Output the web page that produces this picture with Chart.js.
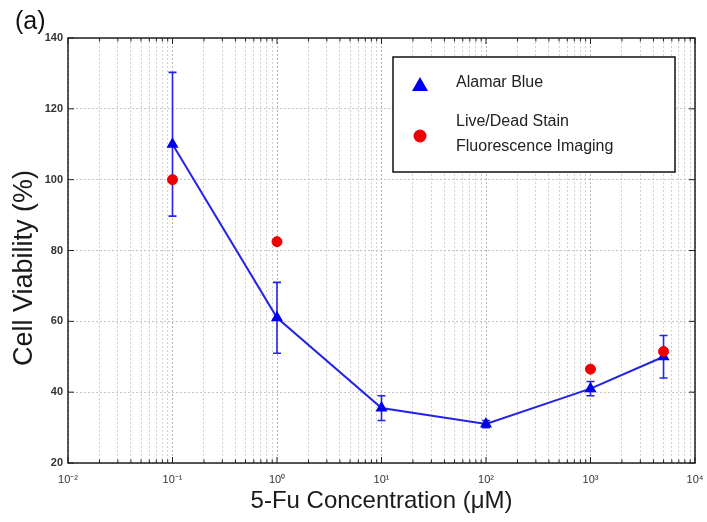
<!DOCTYPE html>
<html>
<head>
<meta charset="utf-8">
<script src="https://cdn.jsdelivr.net/npm/chart.js@4.4.0/dist/chart.umd.min.js"></script>
<style>
  html, body { margin: 0; padding: 0; background: #fff; }
  #wrap { width: 707px; height: 522px; }
</style>
</head>
<body>
<div id="wrap"><canvas id="chart" width="707" height="522"></canvas></div>
<script>
// 5-Fu concentration (uM) and measured viability (%)
const concentrations = [0.1, 1, 10, 100, 1000, 5000];
const alamarBlue = [110, 61, 35.5, 31, 41, 50];
const alamarErr = [20.3, 10, 3.5, 1, 2, 6];
const liveDeadConc = [0.1, 1, 1000, 5000];
const liveDead = [100, 82.5, 46.5, 51.5];

const xTickValues = [0.01, 0.1, 1, 10, 100, 1000, 10000];
const xTickLabels = ['10⁻²', '10⁻¹', '10⁰', '10¹', '10²', '10³', '10⁴'];
const yTickValues = [20, 40, 60, 80, 100, 120, 140];

const FONT = "'Liberation Sans', Arial, sans-serif";

function isMajor(v) {
    return xTickValues.some(t => Math.abs(v - t) / t < 1e-6);
}

// all decade ticks plus 2..9 minor ticks
function allXTicks() {
    const out = [];
    for (let i = 0; i < xTickValues.length; i++) {
        out.push({ value: xTickValues[i], major: true });
        if (i < xTickValues.length - 1) {
            for (let m = 2; m <= 9; m++) out.push({ value: xTickValues[i] * m, major: false });
        }
    }
    return out;
}

const matlabDecor = {
    id: 'matlabDecor',
    beforeDatasetsDraw(chart) {
        const ctx = chart.ctx;
        const x = chart.scales.x, y = chart.scales.y;
        ctx.save();
        ctx.strokeStyle = '#2323e8';
        ctx.lineWidth = 1.6;
        concentrations.forEach((c, i) => {
            const px = x.getPixelForValue(c);
            const top = y.getPixelForValue(alamarBlue[i] + alamarErr[i]);
            const bot = y.getPixelForValue(alamarBlue[i] - alamarErr[i]);
            ctx.beginPath();
            ctx.moveTo(px, top); ctx.lineTo(px, bot);
            ctx.moveTo(px - 4, top); ctx.lineTo(px + 4, top);
            ctx.moveTo(px - 4, bot); ctx.lineTo(px + 4, bot);
            ctx.stroke();
        });
        ctx.restore();
    },
    afterDraw(chart) {
        const ctx = chart.ctx;
        const a = chart.chartArea;
        const x = chart.scales.x, y = chart.scales.y;
        ctx.save();
        // frame
        ctx.strokeStyle = '#222';
        ctx.lineWidth = 1.5;
        ctx.strokeRect(a.left, a.top, a.right - a.left, a.bottom - a.top);
        // inward ticks
        ctx.lineWidth = 1;
        ctx.beginPath();
        x.ticks.forEach(t => {
            const px = x.getPixelForValue(t.value);
            const len = isMajor(t.value) ? 6 : 3.5;
            ctx.moveTo(px, a.bottom); ctx.lineTo(px, a.bottom - len);
            ctx.moveTo(px, a.top); ctx.lineTo(px, a.top + len);
        });
        yTickValues.forEach(v => {
            const py = y.getPixelForValue(v);
            ctx.moveTo(a.left, py); ctx.lineTo(a.left + 6, py);
            ctx.moveTo(a.right, py); ctx.lineTo(a.right - 6, py);
        });
        ctx.stroke();

        // y axis title, set a little below the plot centre as in the figure
        ctx.fillStyle = '#1a1a1a';
        ctx.font = '27px ' + FONT;
        ctx.textAlign = 'center';
        ctx.textBaseline = 'middle';
        ctx.translate(25, 268);
        ctx.rotate(-Math.PI / 2);
        ctx.fillText('Cell Viability (%)', 0, 0);
        ctx.setTransform(1, 0, 0, 1, 0, 0);

        // legend box
        const lx = 393, ly = 57, lw = 282, lh = 115;
        ctx.fillStyle = '#fff';
        ctx.fillRect(lx, ly, lw, lh);
        ctx.strokeStyle = '#111';
        ctx.lineWidth = 1.5;
        ctx.strokeRect(lx, ly, lw, lh);
        ctx.fillStyle = '#0000ee';
        ctx.beginPath();
        ctx.moveTo(420, 77); ctx.lineTo(428, 91); ctx.lineTo(412, 91); ctx.closePath();
        ctx.fill();
        ctx.fillStyle = '#ee0000';
        ctx.beginPath();
        ctx.arc(420, 136, 6.5, 0, Math.PI * 2);
        ctx.fill();
        ctx.fillStyle = '#222';
        ctx.font = '16px ' + FONT;
        ctx.textBaseline = 'middle';
        ctx.textAlign = 'left';
        ctx.fillText('Alamar Blue', 456, 83);
        ctx.fillText('Live/Dead Stain', 456, 122);
        ctx.fillText('Fluorescence Imaging', 456, 147);

        // panel tag
        ctx.fillStyle = '#111';
        ctx.font = '25px ' + FONT;
        ctx.textBaseline = 'alphabetic';
        ctx.fillText('(a)', 15, 29);
        ctx.restore();
    }
};

new Chart(document.getElementById('chart'), {
    type: 'line',
    data: {
        datasets: [{
            label: 'Live/Dead Stain Fluorescence Imaging',
            data: liveDeadConc.map((c, i) => ({ x: c, y: liveDead[i] })),
            showLine: false,
            pointStyle: 'circle',
            pointRadius: 5,
            backgroundColor: '#ee0000',
            borderColor: '#ee0000',
            order: 0
        }, {
            label: 'Alamar Blue',
            data: concentrations.map((c, i) => ({ x: c, y: alamarBlue[i] })),
            borderColor: '#2323e8',
            borderWidth: 2,
            pointStyle: 'triangle',
            pointRadius: 5,
            backgroundColor: '#0000ee',
            pointBorderColor: '#0000ee',
            tension: 0,
            order: 1
        }]
    },
    options: {
        responsive: false,
        animation: false,
        devicePixelRatio: 1,
        layout: { padding: { left: 0, right: 12, top: 38, bottom: 0 } },
        plugins: { legend: { display: false }, tooltip: { enabled: false } },
        scales: {
            x: {
                type: 'logarithmic',
                min: 0.01,
                max: 10000,
                afterBuildTicks: scale => { scale.ticks = allXTicks(); },
                afterFit: scale => {
                    scale.height = 59;
                    scale.paddingLeft = 0;
                    scale.paddingRight = 0;
                },
                grid: {
                    drawTicks: false,
                    color: ctx => (ctx.tick && isMajor(ctx.tick.value)) ? '#b4b4b4' : '#d2d2d2',
                    lineWidth: 1
                },
                border: { display: false, dash: [2, 2] },
                ticks: {
                    autoSkip: false,
                    maxRotation: 0,
                    minRotation: 0,
                    padding: 10,
                    color: '#333',
                    font: { family: FONT, size: 11 },
                    callback: function (value) {
                        const i = xTickValues.findIndex(t => Math.abs(value - t) / t < 1e-6);
                        return i >= 0 ? xTickLabels[i] : '';
                    }
                },
                title: {
                    display: true,
                    text: '5-Fu Concentration (μM)',
                    color: '#1a1a1a',
                    font: { family: FONT, size: 24 },
                    padding: { top: 0, bottom: 6 }
                }
            },
            y: {
                min: 20,
                max: 140,
                afterBuildTicks: scale => { scale.ticks = yTickValues.map(v => ({ value: v })); },
                afterFit: scale => { scale.width = 68; },
                grid: { drawTicks: false, color: '#c4c4c4', lineWidth: 1 },
                border: { display: false, dash: [2, 2] },
                ticks: {
                    padding: 5,
                    color: '#333',
                    font: { family: FONT, size: 11, weight: 'bold' }
                }
            }
        }
    },
    plugins: [matlabDecor]
});
</script>
</body>
</html>
